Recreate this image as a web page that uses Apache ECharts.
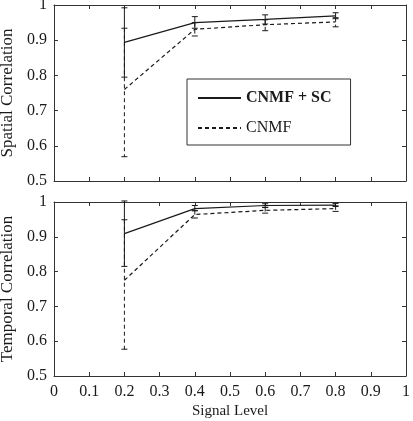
<!DOCTYPE html>
<html>
<head>
<meta charset="utf-8">
<script src="https://cdn.jsdelivr.net/npm/echarts@6/dist/echarts.min.js"></script>
<style>
  html, body { margin: 0; padding: 0; background: #fff; }
  #chart { width: 413px; height: 421px; }
</style>
</head>
<body>
<div id="chart"></div>
<script>
// 数据
const signalLevels = [0.2, 0.4, 0.6, 0.8]
const seriesNames = ['CNMF + SC', 'CNMF']

// 空间相关
const spatialScMean = [0.894, 0.950, 0.959, 0.969]
const spatialScLow = [0.795, 0.934, 0.946, 0.961]
const spatialScHigh = [0.992, 0.967, 0.972, 0.978]
const spatialMean = [0.760, 0.931, 0.944, 0.952]
const spatialLow = [0.569, 0.912, 0.927, 0.938]
const spatialHigh = [0.934, 0.950, 0.958, 0.964]

// 时间相关
const temporalScMean = [0.909, 0.981, 0.990, 0.991]
const temporalScLow = [0.815, 0.975, 0.985, 0.987]
const temporalScHigh = [1.003, 0.990, 0.995, 0.996]
const temporalMean = [0.775, 0.964, 0.976, 0.981]
const temporalLow = [0.577, 0.954, 0.968, 0.973]
const temporalHigh = [0.949, 0.975, 0.984, 0.989]

const xTicks = [0, 0.1, 0.2, 0.3, 0.4, 0.5, 0.6, 0.7, 0.8, 0.9, 1]
const yTicks = [0.5, 0.6, 0.7, 0.8, 0.9, 1]

const FONT = 'Liberation Serif'
const INK = '#1a1a1a'
const DASH = [4, 3]

const chart = echarts.init(document.getElementById('chart'))

const pairs = (ys) => signalLevels.map((x, i) => [x, ys[i]])
const bars = (lo, hi) => signalLevels.map((x, i) => [x, lo[i], hi[i]])

// 误差棒
const errorBar = (dashed) => (params, api) => {
  const top = api.coord([api.value(0), api.value(2)])
  const bot = api.coord([api.value(0), api.value(1)])
  const style = { stroke: INK, lineWidth: 1, lineDash: dashed ? DASH : null }
  const capStyle = { stroke: INK, lineWidth: 1 }
  const w = 3
  return {
    type: 'group',
    children: [
      { type: 'line', shape: { x1: top[0], y1: top[1], x2: bot[0], y2: bot[1] }, style },
      { type: 'line', shape: { x1: top[0] - w, y1: top[1], x2: top[0] + w, y2: top[1] }, style: capStyle },
      { type: 'line', shape: { x1: bot[0] - w, y1: bot[1], x2: bot[0] + w, y2: bot[1] }, style: capStyle }
    ]
  }
}

const xAxisBase = (gridIndex, showLabel, position, name) => ({
  type: 'value', gridIndex, position, min: xTicks[0], max: xTicks[xTicks.length - 1], interval: 0.1,
  name: name || '', nameLocation: 'middle', nameGap: 28,
  nameTextStyle: { fontFamily: FONT, fontSize: 15, color: INK },
  axisLine: { show: true, onZero: false, lineStyle: { color: '#333', width: 1 } },
  axisTick: { show: true, inside: true, length: 4, lineStyle: { color: '#333' } },
  axisLabel: {
    show: showLabel, margin: 8, fontFamily: FONT, fontSize: 16, color: INK,
    formatter: v => String(+v.toFixed(1))
  },
  splitLine: { show: false }
})

const yAxisBase = (gridIndex, showLabel, position, name) => ({
  type: 'value', gridIndex, position, min: yTicks[0], max: yTicks[yTicks.length - 1], interval: 0.1,
  name: name || '', nameLocation: 'middle', nameGap: 36,
  nameTextStyle: { fontFamily: FONT, fontSize: 17, color: INK },
  axisLine: { show: true, onZero: false, lineStyle: { color: '#333', width: 1 } },
  axisTick: { show: true, inside: true, length: 4, lineStyle: { color: '#333' } },
  axisLabel: {
    show: showLabel, margin: 7, fontFamily: FONT, fontSize: 16, color: INK,
    formatter: v => String(+v.toFixed(1))
  },
  splitLine: { show: false }
})

const lineSeries = (name, xi, yi, data, dashed) => ({
  name, type: 'line', xAxisIndex: xi, yAxisIndex: yi, data,
  symbol: 'none', silent: true, animation: false,
  lineStyle: { color: INK, width: 1.2, type: dashed ? DASH : 'solid' },
  itemStyle: { color: INK }
})

const barSeries = (xi, yi, data, dashed) => ({
  type: 'custom', xAxisIndex: xi, yAxisIndex: yi, data,
  renderItem: errorBar(dashed), silent: true, animation: false, clip: false
})

const option = {
  animation: false,
  grid: [
    { left: 54, top: 5, right: 7, height: 176, outerBoundsMode: 'none', containLabel: false },
    { left: 54, top: 202, right: 7, height: 174, outerBoundsMode: 'none', containLabel: false }
  ],
  xAxis: [
    xAxisBase(0, false, 'bottom'),
    xAxisBase(0, false, 'top'),
    xAxisBase(1, true, 'bottom', 'Signal Level'),
    xAxisBase(1, false, 'top')
  ],
  yAxis: [
    yAxisBase(0, true, 'left', 'Spatial Correlation'),
    yAxisBase(0, false, 'right'),
    yAxisBase(1, true, 'left', 'Temporal Correlation'),
    yAxisBase(1, false, 'right')
  ],
  legend: {
    orient: 'vertical', left: 187, top: 79,
    padding: [11, 19, 9, 10], itemGap: 14, itemWidth: 43, itemHeight: 14,
    borderColor: '#333', borderWidth: 1, backgroundColor: '#fff',
    selectedMode: false,
    itemStyle: { opacity: 0 },
    data: seriesNames,
    formatter: n => n === seriesNames[0] ? '{b|' + n + '}' : '{n|' + n + '}',
    textStyle: {
      fontFamily: FONT, fontSize: 16, color: INK,
      rich: {
        b: { fontFamily: FONT, fontSize: 16, fontWeight: 'bold', color: INK },
        n: { fontFamily: FONT, fontSize: 16, color: INK }
      }
    }
  },
  series: [
    barSeries(0, 0, bars(spatialLow, spatialHigh), true),
    barSeries(0, 0, bars(spatialScLow, spatialScHigh), false),
    lineSeries(seriesNames[1], 0, 0, pairs(spatialMean), true),
    lineSeries(seriesNames[0], 0, 0, pairs(spatialScMean), false),
    barSeries(2, 2, bars(temporalLow, temporalHigh), true),
    barSeries(2, 2, bars(temporalScLow, temporalScHigh), false),
    lineSeries(seriesNames[1], 2, 2, pairs(temporalMean), true),
    lineSeries(seriesNames[0], 2, 2, pairs(temporalScMean), false)
  ]
}

chart.setOption(option)
</script>
</body>
</html>
